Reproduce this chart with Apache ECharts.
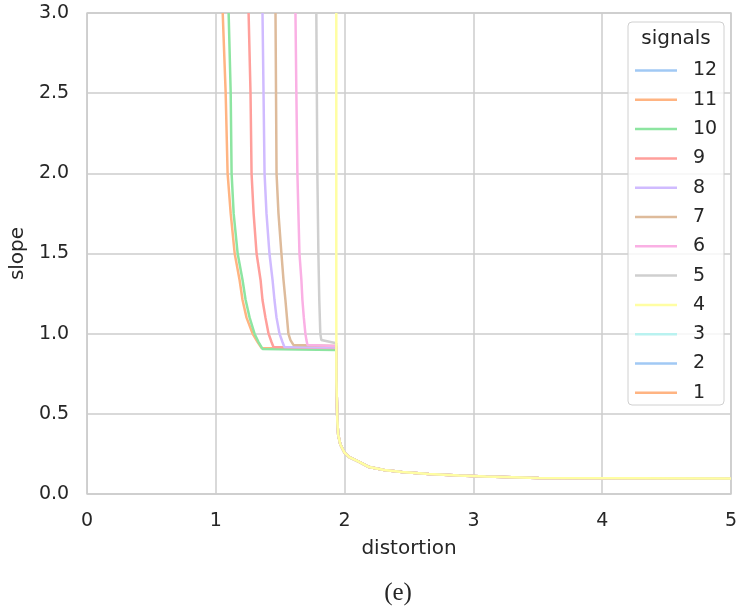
<!DOCTYPE html>
<html><head><meta charset="utf-8">
<script src="https://cdn.jsdelivr.net/npm/echarts@6/dist/echarts.min.js"></script>
<style>html,body{margin:0;padding:0;background:#fff}#c{width:740px;height:609px}</style>
</head><body><div id="c"></div>
<script>
// ---- data ----
const signals = ['12','11','10','9','8','7','6','5','4','3','2','1'];
const colors = ['#a1c9f4','#ffb482','#8de5a1','#ff9f9b','#d0bbff','#debb9b','#fab0e4','#cfcfcf','#fffea3','#b9f2f0','#a1c9f4','#ffb482'];
const xTicks = [0,1,2,3,4,5];
const yTicks = [0.0,0.5,1.0,1.5,2.0,2.5,3.0];

// shared low tail (after the drop at distortion ~1.935)
const tailX = [1.936,1.943,1.950,1.966,1.997,2.036,2.113,2.190,2.307,2.446,2.655,2.887,3.096,3.506,5.0];
const tailY = [0.71,0.46,0.37,0.31,0.26,0.23,0.20,0.168,0.15,0.137,0.125,0.115,0.109,0.10,0.097];

const s11x = [1.053,1.076,1.091,1.115,1.146,1.184,1.207,1.238,1.285,1.324,1.354,1.935];
const s11y = [3.0,2.5,2.0,1.75,1.5,1.335,1.21,1.10,1.0,0.948,0.911,0.905];
const s10x = [1.099,1.115,1.122,1.138,1.169,1.207,1.231,1.262,1.300,1.331,1.362,1.935];
const s10y = [3.0,2.5,2.0,1.75,1.5,1.335,1.21,1.10,1.0,0.948,0.905,0.898];
const s9x = [1.254,1.269,1.277,1.293,1.316,1.347,1.362,1.385,1.409,1.432,1.447,1.935];
const s9y = [3.0,2.5,2.0,1.75,1.5,1.335,1.21,1.10,1.0,0.948,0.917,0.91];
const s8x = [1.362,1.370,1.378,1.393,1.416,1.440,1.455,1.471,1.494,1.517,1.532,1.935];
const s8y = [3.0,2.5,2.0,1.75,1.5,1.335,1.21,1.10,1.0,0.948,0.917,0.914];
const s7x = [1.463,1.467,1.471,1.486,1.509,1.525,1.540,1.552,1.563,1.579,1.602,1.935];
const s7y = [3.0,2.5,2.0,1.75,1.5,1.335,1.21,1.10,1.0,0.96,0.93,0.923];
const s6x = [1.618,1.625,1.633,1.641,1.649,1.664,1.672,1.683,1.695,1.703,1.711,1.935];
const s6y = [3.0,2.5,2.0,1.75,1.5,1.335,1.21,1.10,1.0,0.96,0.93,0.923];
const s5x = [1.780,1.784,1.788,1.796,1.803,1.811,1.819,1.827,1.935];
const s5y = [3.0,2.5,2.0,1.5,1.21,1.0,0.96,0.948,0.94];
const s4x = [1.935,1.935];
const s4y = [3.0,1.2];
const s12x = [], s12y = [], s3x = [], s3y = [], s2x = [], s2y = [], s1x = [], s1y = [];

const seriesXY = {
  '12':[s12x,s12y,false], '11':[s11x,s11y,true], '10':[s10x,s10y,true], '9':[s9x,s9y,true],
  '8':[s8x,s8y,true], '7':[s7x,s7y,true], '6':[s6x,s6y,true], '5':[s5x,s5y,true],
  '4':[s4x,s4y,true], '3':[s3x,s3y,false], '2':[s2x,s2y,false], '1':[s1x,s1y,false]
};

function build(name){
  const [xs, ys, withTail] = seriesXY[name];
  const pts = xs.map((x,i)=>[x, ys[i]]);
  if (withTail) tailX.forEach((x,i)=>pts.push([x, tailY[i]]));
  return pts;
}

const font = 'DejaVu Sans';
const txt = '#262626';
const chart = echarts.init(document.getElementById('c'), null, {renderer:'canvas'});
chart.setOption({
  animation:false,
  backgroundColor:'#ffffff',
  color: colors,
  grid:{left:87,right:7,top:13,bottom:115,show:true,borderColor:'#cccccc',borderWidth:1.5,backgroundColor:'transparent'},
  xAxis:{type:'value',min:xTicks[0],max:xTicks[xTicks.length-1],interval:1,
    name:'distortion',nameLocation:'middle',nameGap:45,
    nameTextStyle:{fontFamily:font,fontSize:20,color:txt},
    axisLine:{show:false},axisTick:{show:false},
    axisLabel:{fontFamily:font,fontSize:19,color:txt,margin:18,formatter:v=>String(v)},
    splitLine:{lineStyle:{color:'#cccccc',width:1.5}}},
  yAxis:{type:'value',min:yTicks[0],max:yTicks[yTicks.length-1],interval:0.5,
    name:'slope',nameLocation:'middle',nameGap:57,
    nameTextStyle:{fontFamily:font,fontSize:20,color:txt},
    axisLine:{show:false},axisTick:{show:false},
    axisLabel:{fontFamily:font,fontSize:19,color:txt,margin:18,formatter:v=>v.toFixed(1)},
    splitLine:{lineStyle:{color:'#cccccc',width:1.5}}},
  legend:{show:true,orient:'vertical',left:630,top:56,data:signals,icon:'rect',
    itemWidth:42,itemHeight:2.5,itemGap:10.3,z:10,
    textStyle:{fontFamily:font,fontSize:19,lineHeight:16,color:txt,padding:[0,0,0,11]}},
  graphic:[
    {type:'rect',z:8,shape:{x:628,y:22,width:96,height:383,r:4},
      style:{fill:'rgba(255,255,255,0.8)',stroke:'#d0d0d0',lineWidth:1}},
    {type:'text',z:9,style:{x:676,y:29,text:'signals',textAlign:'center',textVerticalAlign:'top',fontFamily:font,fontSize:20,fill:txt}},
    {type:'text',z:9,style:{x:398,y:593,text:'(e)',textAlign:'center',textVerticalAlign:'middle',fontFamily:'Liberation Serif',fontSize:25,fill:txt}}
  ],
  series: signals.map((s,i)=>({
    name:s,type:'line',data:build(s),showSymbol:false,symbol:'none',
    lineStyle:{width:2.5,color:colors[i]},itemStyle:{color:colors[i]},
    clip:true,z:2
  }))
});
</script></body></html>
